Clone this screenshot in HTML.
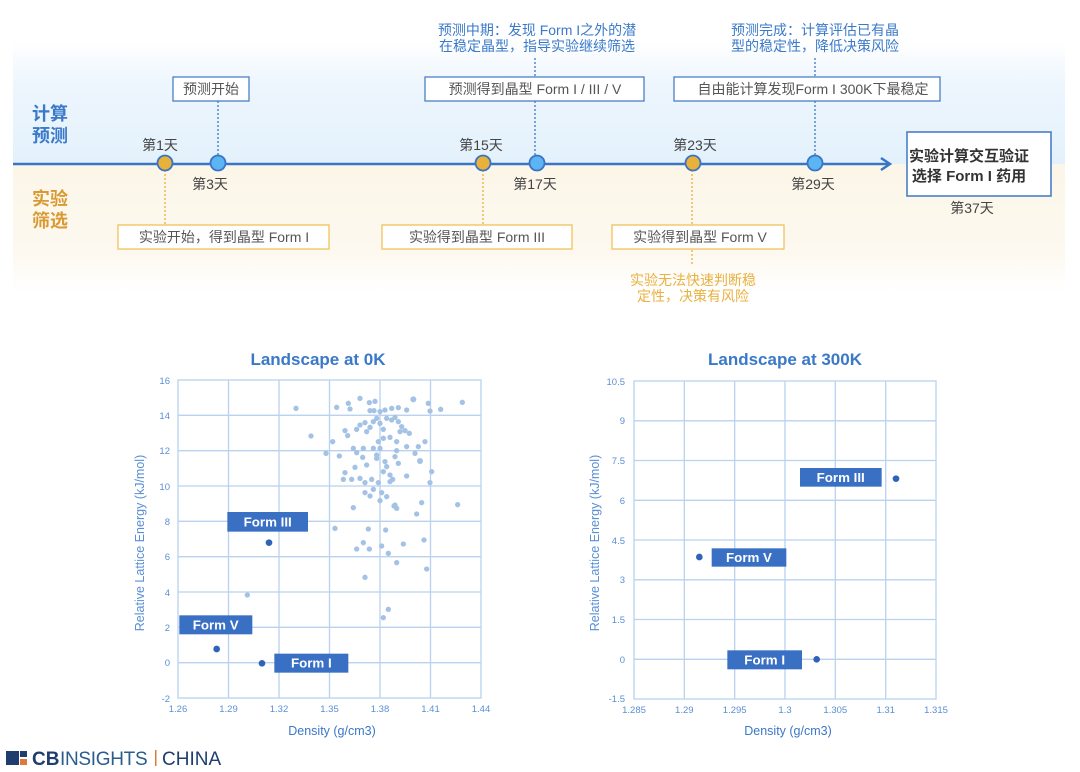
<!DOCTYPE html>
<html><head><meta charset="utf-8"><style>
html,body{margin:0;padding:0;background:#fff;width:1080px;height:772px;overflow:hidden}
svg{display:block}
text{font-family:"Liberation Sans","Noto Sans CJK SC",sans-serif}
</style></head><body>
<svg width="1080" height="772" viewBox="0 0 1080 772" xmlns="http://www.w3.org/2000/svg">
<defs>
<linearGradient id="gb" x1="0" y1="0" x2="0" y2="1"><stop offset="0" stop-color="#fff"/><stop offset="0.35" stop-color="#eef6fd"/><stop offset="1" stop-color="#e3f1fc"/></linearGradient>
<linearGradient id="go" x1="0" y1="0" x2="0" y2="1"><stop offset="0" stop-color="#fcf6e8"/><stop offset="0.7" stop-color="#fdf9f0"/><stop offset="1" stop-color="#fff"/></linearGradient>
</defs>
<rect x="13" y="40" width="1052" height="124" fill="url(#gb)"/>
<rect x="13" y="164" width="1052" height="128" fill="url(#go)"/>
<g font-size="18" font-weight="bold"><text x="32" y="120" fill="#3b7ac9">计算</text><text x="32" y="142" fill="#3b7ac9">预测</text>
<text x="32" y="205" fill="#d99a34">实验</text><text x="32" y="227" fill="#d99a34">筛选</text></g>
<g stroke-dasharray="2,2" stroke-width="1.3">
<line x1="218" y1="101" x2="218" y2="157" stroke="#3a78c8"/>
<line x1="535" y1="58" x2="535" y2="77" stroke="#3a78c8"/>
<line x1="535" y1="101" x2="535" y2="157" stroke="#3a78c8"/>
<line x1="815" y1="58" x2="815" y2="77" stroke="#3a78c8"/>
<line x1="815" y1="101" x2="815" y2="157" stroke="#3a78c8"/>
<line x1="165" y1="170" x2="165" y2="225" stroke="#eab040"/>
<line x1="483" y1="170" x2="483" y2="225" stroke="#eab040"/>
<line x1="692" y1="170" x2="692" y2="265" stroke="#eab040"/>
</g>
<line x1="13" y1="164" x2="888" y2="164" stroke="#3a74c6" stroke-width="2.5"/>
<polyline points="881,158 890,164 881,170" fill="none" stroke="#3a74c6" stroke-width="2.5"/>
<g stroke="#3a74c6" stroke-width="1.8">
<circle cx="165" cy="163" r="7.5" fill="#e8b13a"/><circle cx="218" cy="163" r="7.5" fill="#5cb5f2"/>
<circle cx="483" cy="163" r="7.5" fill="#e8b13a"/><circle cx="537" cy="163" r="7.5" fill="#5cb5f2"/>
<circle cx="693" cy="163" r="7.5" fill="#e8b13a"/><circle cx="815" cy="163" r="7.5" fill="#5cb5f2"/>
</g>
<g font-size="14" fill="#444" text-anchor="middle">
<text x="160" y="150">第1天</text><text x="210" y="189">第3天</text>
<text x="481" y="150">第15天</text><text x="535" y="189">第17天</text>
<text x="695" y="150">第23天</text><text x="813" y="189">第29天</text>
<text x="972" y="213">第37天</text>
</g>
<g fill="#fff" stroke="#4a7fc8" stroke-width="1.3">
<rect x="173" y="77" width="76" height="24"/><rect x="425" y="77" width="219" height="24"/><rect x="674" y="77" width="266" height="24"/>
<rect x="907" y="132" width="144" height="64" stroke-width="1.6"/>
</g>
<g fill="#fff" stroke="#f0c15a" stroke-width="1.3">
<rect x="118" y="225" width="211" height="24"/><rect x="382" y="225" width="190" height="24"/><rect x="612" y="225" width="172" height="24"/>
</g>
<g font-size="14" fill="#555" text-anchor="middle">
<text x="211" y="94">预测开始</text><text x="535" y="94">预测得到晶型 Form I / III / V</text><text x="813" y="94">自由能计算发现Form I 300K下最稳定</text>
<text x="224" y="242">实验开始，得到晶型 Form I</text><text x="477" y="242">实验得到晶型 Form III</text><text x="700" y="242">实验得到晶型 Form V</text>
</g>
<g font-size="15" font-weight="bold" fill="#333" text-anchor="middle"><text x="969" y="161">实验计算交互验证</text><text x="969" y="181">选择 Form I 药用</text></g>
<g font-size="14" fill="#3b7ac9" text-anchor="middle"><text x="537" y="35">预测中期：发现 Form I之外的潜</text><text x="537" y="51">在稳定晶型，指导实验继续筛选</text>
<text x="815" y="35">预测完成：计算评估已有晶</text><text x="815" y="51">型的稳定性，降低决策风险</text></g>
<g font-size="14" fill="#eab040" text-anchor="middle"><text x="693" y="285">实验无法快速判断稳</text><text x="693" y="301">定性，决策有风险</text></g>

<text x="318" y="365" font-size="17" font-weight="bold" fill="#3a78c8" text-anchor="middle">Landscape at 0K</text>
<g stroke="#b8d2ef" stroke-width="1.3" fill="none">
<rect x="178" y="380" width="303" height="318"/>
<line x1="228.5" y1="380" x2="228.5" y2="698"/><line x1="279" y1="380" x2="279" y2="698"/><line x1="329.5" y1="380" x2="329.5" y2="698"/><line x1="380" y1="380" x2="380" y2="698"/><line x1="430.5" y1="380" x2="430.5" y2="698"/>
<line x1="178" y1="415.3" x2="481" y2="415.3"/><line x1="178" y1="450.7" x2="481" y2="450.7"/><line x1="178" y1="486" x2="481" y2="486"/><line x1="178" y1="521.3" x2="481" y2="521.3"/><line x1="178" y1="556.7" x2="481" y2="556.7"/><line x1="178" y1="592" x2="481" y2="592"/><line x1="178" y1="627.3" x2="481" y2="627.3"/><line x1="178" y1="662.7" x2="481" y2="662.7"/>
</g>
<g font-size="9.5" fill="#5a8fd4" text-anchor="end">
<text x="170" y="384">16</text><text x="170" y="419">14</text><text x="170" y="454">12</text><text x="170" y="490">10</text><text x="170" y="525">8</text><text x="170" y="560">6</text><text x="170" y="596">4</text><text x="170" y="631">2</text><text x="170" y="666">0</text><text x="170" y="702">-2</text>
</g>
<g font-size="9.5" fill="#5a8fd4" text-anchor="middle">
<text x="178" y="712">1.26</text><text x="228.5" y="712">1.29</text><text x="279" y="712">1.32</text><text x="329.5" y="712">1.35</text><text x="380" y="712">1.38</text><text x="430.5" y="712">1.41</text><text x="481" y="712">1.44</text>
</g>
<text x="332" y="735" font-size="12.5" fill="#3a78c8" text-anchor="middle">Density (g/cm3)</text>
<text transform="translate(144,543) rotate(-90)" font-size="12.5" fill="#5a8fd4" text-anchor="middle">Relative Lattice Energy (kJ/mol)</text>
<g transform="translate(120,340) scale(0.33333)" fill="#a4c2e6">
<circle cx="528" cy="205" r="8"/><circle cx="650" cy="202" r="8"/><circle cx="685" cy="190" r="8"/><circle cx="690" cy="207" r="8"/><circle cx="720" cy="175" r="8"/><circle cx="748" cy="188" r="8"/><circle cx="765" cy="184" r="8"/><circle cx="750" cy="212" r="8"/><circle cx="762" cy="212" r="8"/><circle cx="780" cy="215" r="8"/><circle cx="795" cy="210" r="8"/><circle cx="815" cy="205" r="8"/><circle cx="835" cy="203" r="8"/><circle cx="860" cy="210" r="8"/><circle cx="880" cy="178" r="9"/><circle cx="925" cy="190" r="8"/><circle cx="930" cy="213" r="8"/><circle cx="962" cy="208" r="8"/><circle cx="1027" cy="187" r="8"/>
<circle cx="573" cy="288" r="8"/><circle cx="638" cy="305" r="8"/><circle cx="618" cy="340" r="8"/><circle cx="658" cy="348" r="8"/><circle cx="675" cy="272" r="8"/><circle cx="683" cy="287" r="8"/><circle cx="710" cy="268" r="8"/><circle cx="720" cy="255" r="8"/><circle cx="735" cy="248" r="8"/><circle cx="740" cy="275" r="8"/><circle cx="750" cy="262" r="8"/><circle cx="760" cy="245" r="8"/><circle cx="770" cy="235" r="8"/><circle cx="780" cy="250" r="8"/><circle cx="790" cy="268" r="8"/><circle cx="800" cy="235" r="8"/><circle cx="815" cy="240" r="8"/><circle cx="825" cy="232" r="8"/><circle cx="835" cy="245" r="8"/><circle cx="845" cy="260" r="8"/><circle cx="855" cy="272" r="8"/><circle cx="868" cy="280" r="8"/><circle cx="840" cy="275" r="8"/><circle cx="790" cy="295" r="8"/><circle cx="810" cy="292" r="8"/><circle cx="830" cy="305" r="8"/><circle cx="775" cy="305" r="8"/><circle cx="760" cy="325" r="8"/><circle cx="770" cy="345" r="8"/><circle cx="780" cy="325" r="8"/><circle cx="700" cy="325" r="8"/><circle cx="710" cy="338" r="8"/><circle cx="730" cy="325" r="8"/><circle cx="728" cy="352" r="8"/><circle cx="740" cy="375" r="8"/><circle cx="770" cy="355" r="8"/><circle cx="795" cy="365" r="8"/><circle cx="800" cy="380" r="8"/><circle cx="830" cy="332" r="8"/><circle cx="825" cy="350" r="8"/><circle cx="835" cy="370" r="8"/><circle cx="860" cy="320" r="8"/><circle cx="885" cy="340" r="8"/><circle cx="895" cy="320" r="8"/><circle cx="900" cy="363" r="9"/><circle cx="915" cy="305" r="8"/><circle cx="935" cy="395" r="8"/><circle cx="930" cy="428" r="8"/><circle cx="675" cy="398" r="8"/><circle cx="670" cy="418" r="8"/><circle cx="695" cy="418" r="8"/><circle cx="705" cy="382" r="8"/><circle cx="720" cy="415" r="8"/><circle cx="735" cy="428" r="8"/><circle cx="755" cy="418" r="8"/><circle cx="775" cy="428" r="8"/><circle cx="790" cy="395" r="8"/><circle cx="810" cy="405" r="8"/><circle cx="818" cy="418" r="8"/><circle cx="810" cy="425" r="8"/><circle cx="735" cy="458" r="8"/><circle cx="750" cy="468" r="8"/><circle cx="760" cy="448" r="8"/><circle cx="785" cy="458" r="8"/><circle cx="800" cy="470" r="8"/><circle cx="780" cy="482" r="8"/><circle cx="860" cy="408" r="8"/><circle cx="700" cy="503" r="8"/><circle cx="822" cy="498" r="8"/><circle cx="830" cy="505" r="8"/><circle cx="825" cy="495" r="8"/><circle cx="905" cy="488" r="8"/><circle cx="890" cy="522" r="8"/><circle cx="1013" cy="494" r="8"/>
<circle cx="645" cy="565" r="8"/><circle cx="745" cy="567" r="8"/><circle cx="797" cy="570" r="8"/><circle cx="730" cy="608" r="8"/><circle cx="710" cy="627" r="8"/><circle cx="748" cy="627" r="8"/><circle cx="785" cy="618" r="8"/><circle cx="805" cy="640" r="8"/><circle cx="850" cy="612" r="8"/><circle cx="912" cy="600" r="8"/><circle cx="830" cy="668" r="8"/><circle cx="920" cy="687" r="8"/><circle cx="735" cy="712" r="8"/><circle cx="382" cy="765" r="8"/><circle cx="805" cy="808" r="8"/><circle cx="790" cy="833" r="8"/>
<g fill="#2e63b8"><circle cx="447" cy="608" r="10"/><circle cx="290" cy="927" r="10"/><circle cx="426" cy="970" r="10"/></g>
<g fill="#3a70c4"><rect x="322" y="516" width="242" height="59"/><rect x="178" y="826" width="219" height="57"/><rect x="463" y="941" width="222" height="57"/></g>
<g fill="#fff" font-size="40" font-weight="bold" text-anchor="middle"><text x="443" y="559">Form III</text><text x="287" y="868">Form V</text><text x="574" y="983">Form I</text></g>
</g>

<text x="785" y="365" font-size="17" font-weight="bold" fill="#3a78c8" text-anchor="middle">Landscape at 300K</text>
<g stroke="#b8d2ef" stroke-width="1.3" fill="none">
<rect x="634" y="381" width="302" height="318"/>
<line x1="684.3" y1="381" x2="684.3" y2="699"/><line x1="734.7" y1="381" x2="734.7" y2="699"/><line x1="785" y1="381" x2="785" y2="699"/><line x1="835.3" y1="381" x2="835.3" y2="699"/><line x1="885.7" y1="381" x2="885.7" y2="699"/>
<line x1="634" y1="420.8" x2="936" y2="420.8"/><line x1="634" y1="460.5" x2="936" y2="460.5"/><line x1="634" y1="500.3" x2="936" y2="500.3"/><line x1="634" y1="540" x2="936" y2="540"/><line x1="634" y1="579.8" x2="936" y2="579.8"/><line x1="634" y1="619.5" x2="936" y2="619.5"/><line x1="634" y1="659.3" x2="936" y2="659.3"/>
</g>
<g font-size="9.5" fill="#5a8fd4" text-anchor="end">
<text x="625" y="385">10.5</text><text x="625" y="424">9</text><text x="625" y="464">7.5</text><text x="625" y="504">6</text><text x="625" y="544">4.5</text><text x="625" y="583">3</text><text x="625" y="623">1.5</text><text x="625" y="663">0</text><text x="625" y="702">-1.5</text>
</g>
<g font-size="9.5" fill="#5a8fd4" text-anchor="middle">
<text x="634" y="713">1.285</text><text x="684.3" y="713">1.29</text><text x="734.7" y="713">1.295</text><text x="785" y="713">1.3</text><text x="835.3" y="713">1.305</text><text x="885.7" y="713">1.31</text><text x="936" y="713">1.315</text>
</g>
<text x="788" y="735" font-size="12.5" fill="#3a78c8" text-anchor="middle">Density (g/cm3)</text>
<text transform="translate(599,543) rotate(-90)" font-size="12.5" fill="#5a8fd4" text-anchor="middle">Relative Lattice Energy (kJ/mol)</text>
<g transform="translate(580,340) scale(0.33333)">
<g fill="#2e63b8"><circle cx="948" cy="416" r="10"/><circle cx="358" cy="651" r="10"/><circle cx="710" cy="958" r="10"/></g>
<g fill="#3a70c4"><rect x="660" y="384" width="245" height="56"/><rect x="395" y="625" width="224" height="55"/><rect x="442" y="931" width="224" height="57"/></g>
<g fill="#fff" font-size="40" font-weight="bold" text-anchor="middle"><text x="782" y="426">Form III</text><text x="507" y="666">Form V</text><text x="554" y="973">Form I</text></g>
</g>

<rect x="6" y="751" width="13" height="14" fill="#1f3e6e"/><rect x="20" y="751" width="7" height="6" fill="#1f3e6e"/><rect x="20" y="759" width="7" height="6" fill="#e07a3a"/>
<text x="32" y="765" font-size="19" font-weight="bold" fill="#1f3e6e">CB</text>
<text x="60" y="765" font-size="19" fill="#2a5c8e" letter-spacing="-0.3">INSIGHTS</text>
<rect x="155" y="750" width="1.5" height="16" fill="#e07a3a"/>
<text x="162" y="765" font-size="19" fill="#1f3e6e">CHINA</text>
</svg>
</body></html>
